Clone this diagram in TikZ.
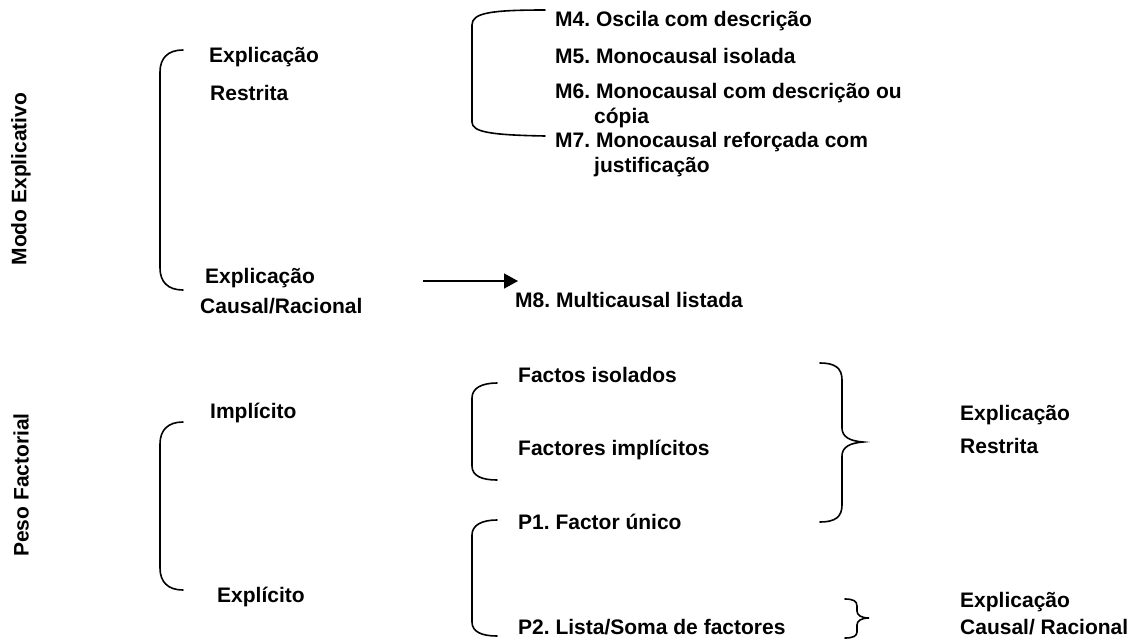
\documentclass[tikz,border=0pt]{standalone}
\usepackage{fontspec}
\setmainfont{Liberation Sans}
\usetikzlibrary{arrows.meta}
\frenchspacing
\begin{document}
\begin{tikzpicture}[x=1pt,y=-1pt,
  lbl/.style={font=\fontsize{21}{26}\selectfont\bfseries,inner sep=0pt,anchor=base west},
  side/.style={lbl,anchor=center,rotate=90},
  brk/.style={line width=1.6pt,line cap=round}]
  \useasboundingbox (0,0) rectangle (1136,643);
  % Modo Explicativo
  \node[side] (modo) at (21,179) {Modo Explicativo};
  \node[lbl] (expR) at (209,62) {Explicação};
  \node[lbl] (restR) at (210,100) {Restrita};
  \node[lbl] (expC) at (205,283) {Explicação};
  \node[lbl] (causC) at (200,313) {Causal/Racional};
  \draw[brk] (183,50) .. controls (168,50) and (160,58) .. (160,72) -- (160,268)
    .. controls (160,282) and (168,290) .. (183,290);
  % Categorias M4--M7
  \node[lbl] (m4) at (555,26) {M4. Oscila com descrição};
  \node[lbl] (m5) at (555,63) {M5. Monocausal isolada};
  \node[lbl] (m6) at (555,98) {M6. Monocausal com descrição ou};
  \node[lbl] (m6b) at (594,123) {cópia};
  \node[lbl] (m7) at (555,147) {M7. Monocausal reforçada com};
  \node[lbl] (m7b) at (594,172) {justificação};
  \draw[brk] (545,10) .. controls (490,10) and (472,13) .. (472,25) -- (472,122)
    .. controls (472,132) and (490,135) .. (545,136);
  % M8
  \node[lbl] (m8) at (515,307) {M8. Multicausal listada};
  \coordinate (arrS) at (423,281);
  \coordinate (arrE) at (518,281);
  \draw[line width=1.5pt,-{Triangle[length=14pt,width=15pt]}] (arrS) -- (arrE);
  % Peso Factorial
  \node[side] (peso) at (21,485) {Peso Factorial};
  \node[lbl] (impl) at (210,418) {Implícito};
  \node[lbl] (expl) at (217,602) {Explícito};
  \draw[brk] (183,422) .. controls (168,422) and (160,430) .. (160,444) -- (160,568)
    .. controls (160,582) and (168,590) .. (183,590);
  % factos / factores
  \node[lbl] (fact) at (518,382) {Factos isolados};
  \node[lbl] (facti) at (518,455) {Factores implícitos};
  \draw[brk] (497,383) .. controls (482,383) and (472,388) .. (472,398) -- (472,466)
    .. controls (472,476) and (482,480) .. (497,480);
  \node[lbl] (p1) at (518,529) {P1. Factor único};
  \node[lbl] (p2) at (518,634) {P2. Lista/Soma de factores};
  \draw[brk] (497,520) .. controls (482,520) and (472,525) .. (472,535) -- (472,622)
    .. controls (472,632) and (482,636) .. (497,636);
  % chavetas da direita
  \draw[brk] (820,363) .. controls (835,363) and (842,368) .. (842,380) -- (842,428)
    .. controls (842,437) and (850,441) .. (863,442)
    .. controls (850,443) and (842,447) .. (842,456) -- (842,505)
    .. controls (842,517) and (835,522) .. (820,522);
  \node[lbl] (expR2) at (960,420) {Explicação};
  \node[lbl] (restR2) at (960,453) {Restrita};
  \draw[brk] (845,599) .. controls (853,599) and (857,601) .. (857,606) -- (857,611)
    .. controls (857,615) and (861,618) .. (869,618)
    .. controls (861,618) and (857,621) .. (857,625) -- (857,632)
    .. controls (857,636) and (853,638) .. (845,638);
  \node[lbl] (expC2) at (960,607) {Explicação};
  \node[lbl] (causC2) at (960,634) {Causal/ Racional};
\end{tikzpicture}
\end{document}
